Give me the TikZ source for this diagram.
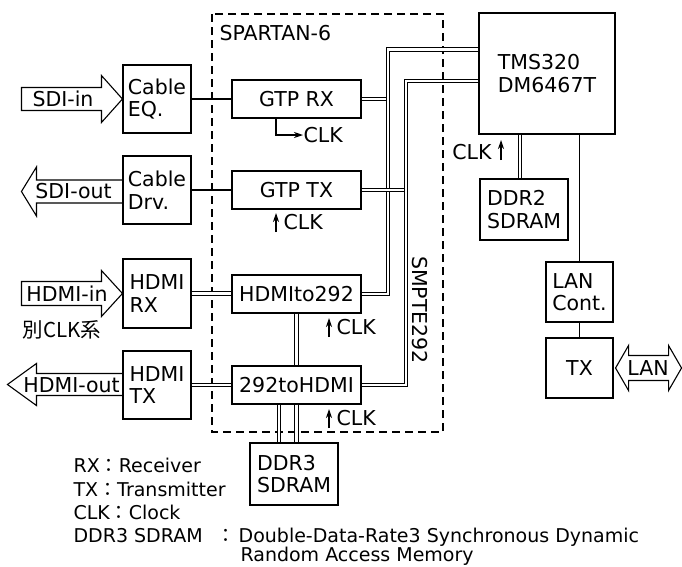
\documentclass[tikz,border=0pt]{standalone}
\usepackage{fontspec}
\setmainfont{DejaVu Sans}
\newfontfamily\cjk{Noto Sans CJK JP}
\usetikzlibrary{arrows.meta,calc}
\begin{document}
\begin{tikzpicture}[x=1pt,y=-1pt,line width=1.1pt,
  every node/.style={font=\fontsize{20.5}{22.5}\selectfont,inner sep=0pt},
  box/.style={draw,align=left},
  bus/.style={double,double distance=2.6pt},
  clk/.style={-{Stealth[length=9pt,width=6pt]}},
  bigarrow/.style={line join=miter},
  fpgaframe/.style={dash pattern=on 8pt off 5pt},
  legend/.style={anchor=base west,font=\fontsize{19}{22}\selectfont}]
\useasboundingbox (0,0) rectangle (682,566);
% FPGA area
\draw[fpgaframe] (212,14) rectangle (443,432);
\node[anchor=west] (fpga) at (219,33) {SPARTAN-6};
\node[rotate=-90] (smpte) at (420,310) {SMPTE292};
% blocks
\node[box,minimum width=68pt,minimum height=68pt] (eq) at (157,99) {Cable\\EQ.};
\node[box,minimum width=68pt,minimum height=68pt] (drv) at (157,190) {Cable\\Drv.};
\node[box,minimum width=68pt,minimum height=69pt] (hrx) at (157,293.5) {HDMI\\RX};
\node[box,minimum width=68pt,minimum height=68pt] (htx) at (157,385) {HDMI\\TX};
\node[box,minimum width=129pt,minimum height=38pt] (gtprx) at (296.5,99) {GTP RX};
\node[box,minimum width=129pt,minimum height=38pt] (gtptx) at (296.5,190) {GTP TX};
\node[box,minimum width=129pt,minimum height=38pt] (h2s) at (296.5,294) {HDMIto292};
\node[box,minimum width=129pt,minimum height=38pt] (s2h) at (296.5,385) {292toHDMI};
\node[box,minimum width=88pt,minimum height=62pt] (ddr3) at (294,474) {DDR3\\SDRAM};
\node[box,minimum width=136pt,minimum height=121pt] (dsp) at (547,73.5) {TMS320\\DM6467T};
\node[box,minimum width=88pt,minimum height=61pt] (ddr2) at (524,209.5) {DDR2\\SDRAM};
\node[box,minimum width=67pt,minimum height=60pt] (lanc) at (579.5,292) {LAN\\Cont.};
\node[box,minimum width=67pt,minimum height=60pt] (tx) at (579.5,368) {TX};
% signal lines
\draw (eq.east) -- (gtprx.west);
\draw (drv.east) -- (gtptx.west);
\draw[bus] (hrx.east) -- (hrx.east -| h2s.west);
\draw[bus] (htx.east) -- (htx.east -| s2h.west);
\coordinate (busa) at (388,0);
\coordinate (busb) at (406,0);
\draw[bus] (gtprx.east) -- (gtprx.east -| busa);
\draw[bus] ($(dsp.north west)+(0,37)$) -| (h2s.east -| busa) -- (h2s.east);
\draw[bus] (gtptx.east) -- (gtptx.east -| busb);
\draw[bus] ($(dsp.north west)+(0,68.5)$) -| (s2h.east -| busb) -- (s2h.east);
\draw[bus] (h2s.south) -- (s2h.north);
\draw[bus] ([xshift=-17.5pt]s2h.south) -- ([xshift=-17.5pt]s2h.south |- ddr3.north);
\draw[bus] (s2h.south) -- (s2h.south |- ddr3.north);
\draw[bus] ([xshift=-27pt]dsp.south) -- ([xshift=-27pt]dsp.south |- ddr2.north);
\draw (lanc.north) -- (lanc.north |- dsp.south);
\draw (lanc.south) -- (tx.north);
% clocks
\node[anchor=west] (ck1) at (303,135) {CLK};
\node[anchor=west] (ck2) at (283,222) {CLK};
\node[anchor=west] (ck3) at (336,327) {CLK};
\node[anchor=west] (ck4) at (336,418) {CLK};
\node[anchor=east] (ck5) at (492,152) {CLK};
\draw[clk] ([xshift=-20.5pt]gtprx.south) |- (ck1.west);
\draw[clk] ($(ck2.west)+(-7,10)$) -- ++(0,-19);
\draw[clk] ($(ck3.west)+(-7,10)$) -- ++(0,-19);
\draw[clk] ($(ck4.west)+(-7,10)$) -- ++(0,-19);
\draw[clk] ($(ck5.east)+(9,8)$) -- ++(0,-20);
% outer connections
\draw[bigarrow] (eq.west) -- ++(-21,-23.5) -- ++(0,12) -- ++(-80,0) -- ++(0,23) -- ++(80,0) -- ++(0,12) -- cycle;
\node (sdiin) at (63,99) {SDI-in};
\draw[bigarrow] ($(drv.west)+(0,-10)$) -- ++(-86,0) -- ++(0,-13) -- ++(-15,24.5) -- ++(15,24.5) -- ++(0,-13) -- ++(86,0);
\node (sdiout) at (73.5,191.5) {SDI-out};
\draw[bigarrow] (hrx.west) -- ++(-21,-23) -- ++(0,11) -- ++(-80,0) -- ++(0,24) -- ++(80,0) -- ++(0,11) -- cycle;
\node (hdmiin) at (67,294) {HDMI-in};
\node (note) at (62,330) {\cjk 別CLK系};
\draw[bigarrow] ($(htx.west)+(0,-11.5)$) -- ++(-86,0) -- ++(0,-10) -- ++(-29,21) -- ++(29,21) -- ++(0,-10) -- ++(86,0);
\node (hdmiout) at (71.5,385) {HDMI-out};
\draw[bigarrow] ($(tx.east)+(2,0)$) -- ++(13,-22.5) -- ++(0,10) -- ++(40,0) -- ++(0,-10) -- ++(13,22.5)
  -- ++(-13,22.5) -- ++(0,-10) -- ++(-40,0) -- ++(0,10) -- cycle;
\node (lan) at (648,368) {LAN};
% legend
\node[legend] (lrx) at (73,472) {RX{\cjk ：}Receiver};
\node[legend] (ltx) at (73,496) {TX{\cjk ：}Transmitter};
\node[legend] (lclk) at (73,519) {CLK{\cjk ：}Clock};
\node[legend] (lddr) at (73,542) {DDR3 SDRAM\hspace{14pt}{\cjk ：}\hspace{3pt}Double-Data-Rate3 Synchronous Dynamic};
\node[legend] (lram) at (240,561) {Random Access Memory};
\end{tikzpicture}
\end{document}
